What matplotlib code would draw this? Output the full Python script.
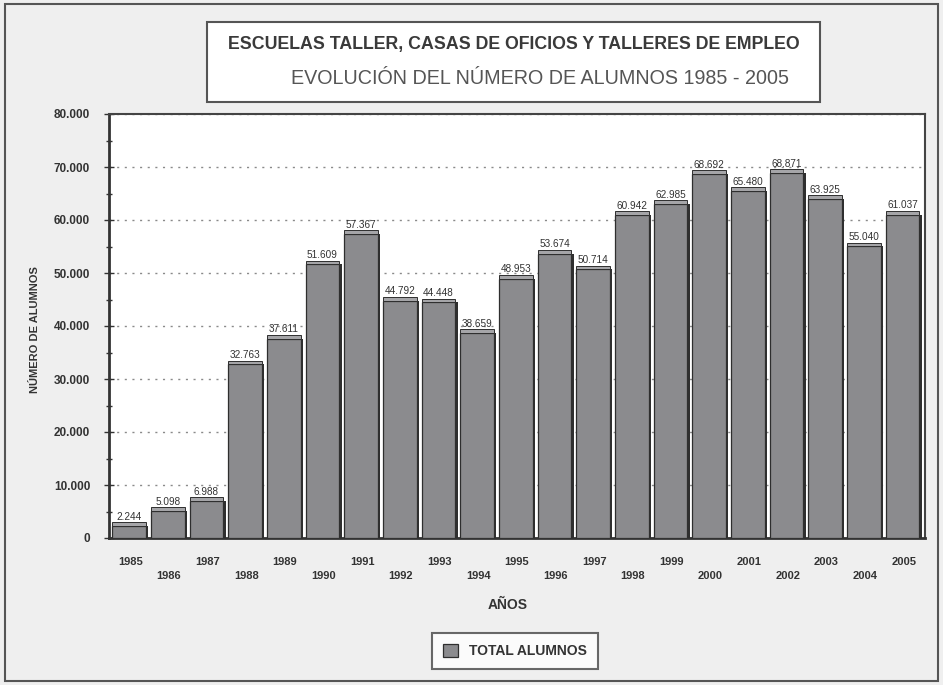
import matplotlib
matplotlib.use("Agg")
import matplotlib.pyplot as plt
from matplotlib.patches import Rectangle
from matplotlib.ticker import MultipleLocator, FuncFormatter
import numpy as np

years = [1985, 1986, 1987, 1988, 1989, 1990, 1991, 1992, 1993, 1994, 1995,
         1996, 1997, 1998, 1999, 2000, 2001, 2002, 2003, 2004, 2005]
alumnos = [2244, 5098, 6988, 32763, 37611, 51609, 57367, 44792, 44448, 38659,
           48953, 53674, 50714, 60942, 62985, 68692, 65480, 68871, 63925, 55040, 61037]
series_name = "TOTAL ALUMNOS"
title1 = "ESCUELAS TALLER, CASAS DE OFICIOS Y TALLERES DE EMPLEO"
title2 = "EVOLUCIÓN DEL NÚMERO DE ALUMNOS 1985 - 2005"
ylabel = "NÚMERO DE ALUMNOS"
xlabel = "AÑOS"

def fmt(v, pos=None):
    return f"{int(v):,}".replace(",", ".")

plt.rcParams['font.family'] = ['Liberation Sans', 'DejaVu Sans']

W, H = 943, 685
fig = plt.figure(figsize=(W / 100, H / 100), dpi=100, facecolor='#efefef')

# outer frame
fig.patches.append(Rectangle((5 / W, 1 - 681 / H), 933 / W, 677 / H, transform=fig.transFigure,
                             fill=False, edgecolor='#555555', lw=1.5))

ax = fig.add_axes([109 / W, 1 - 538 / H, (925 - 109) / W, (538 - 114) / H])
ax.set_facecolor('white')

x = np.arange(len(years))
bw = 0.87
bar_color = '#8b8b8e'
bars = ax.bar(x - 0.03, alumnos, width=bw, color=bar_color, edgecolor='#2e2e2e', lw=0.9,
              label=series_name, zorder=3)
# dark side (3D)
ax.bar(x - 0.03 + bw / 2 + 0.03, alumnos, width=0.06, color='#2f2f2f', lw=0, zorder=3)
# top face
ax.bar(x - 0.03, [700] * len(x), bottom=alumnos, width=bw, color='#a5a5a8',
       edgecolor='#2e2e2e', lw=0.7, zorder=3)

for xi, v in zip(x, alumnos):
    ax.text(xi - 0.03, v + 800, fmt(v), ha='center', va='bottom', fontsize=7.2,
            color='#333333', zorder=4)

ax.set_xlim(-0.55, len(years) - 0.45)
ax.set_ylim(0, 80000)
ax.yaxis.set_major_locator(MultipleLocator(10000))
ax.yaxis.set_minor_locator(MultipleLocator(5000))
ax.yaxis.set_major_formatter(FuncFormatter(fmt))
ax.grid(axis='y', which='major', linestyle=(0, (1.5, 4)), color='#8a8a8a', lw=1.0, zorder=1)

ax.set_xticks(x)
ax.set_xticklabels([str(y) if i % 2 == 0 else "\n" + str(y) for i, y in enumerate(years)],
                   fontsize=8, fontweight='bold', color='#333333', linespacing=1.5)
ax.tick_params(axis='x', direction='in', length=7, width=1, color='#444444', pad=14)
ax.tick_params(axis='y', which='major', direction='inout', length=7, width=1, color='#333333',
               labelsize=8.5, labelcolor='#333333', pad=10)
ax.tick_params(axis='y', which='minor', direction='inout', length=5, width=1, color='#333333')
for lab in ax.get_yticklabels():
    lab.set_fontweight('bold')

for s in ['left', 'bottom']:
    ax.spines[s].set_linewidth(2.0)
    ax.spines[s].set_color('#333333')
for s in ['top', 'right']:
    ax.spines[s].set_linewidth(1.5)
    ax.spines[s].set_color('#444444')

fig.text(35 / W, 1 - 330 / H, ylabel, rotation=90, ha='center', va='center',
         fontsize=8, fontweight='bold', color='#333333')
fig.text(508 / W, 1 - 605 / H, xlabel, ha='center', va='center',
         fontsize=10, fontweight='bold', color='#333333')

# title box
fig.patches.append(Rectangle((207 / W, 1 - 102 / H), 613 / W, 80 / H, transform=fig.transFigure,
                             facecolor='white', edgecolor='#555555', lw=1.5))
fig.text(514 / W, 1 - 45 / H, title1, ha='center', va='center', fontsize=12.8,
         fontweight='bold', color='#3a3a3a')
fig.text(540 / W, 1 - 78 / H, title2, ha='center', va='center', fontsize=14.2,
         color='#555555')

leg = fig.legend(handles=[bars], labels=[series_name], loc='center',
                 bbox_to_anchor=(515 / W, 1 - 651 / H), frameon=True, fancybox=False,
                 prop={'weight': 'bold', 'size': 10}, handlelength=1.1, handleheight=1.1,
                 borderpad=0.8, handletextpad=0.8)
leg.get_frame().set_edgecolor('#444444')
leg.get_frame().set_linewidth(1.5)
leg.get_frame().set_facecolor('white')
for t in leg.get_texts():
    t.set_color('#333333')

fig.savefig("out.png", dpi=100, facecolor=fig.get_facecolor())
